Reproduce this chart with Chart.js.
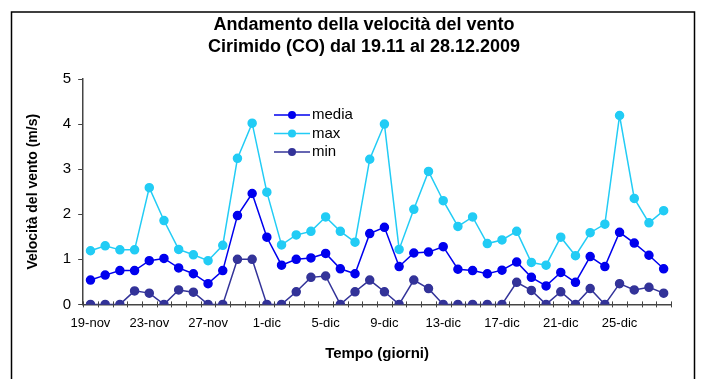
<!DOCTYPE html>
<html>
<head>
<meta charset="utf-8">
<script src="https://cdn.jsdelivr.net/npm/chart.js@4"></script>
<style>
    html, body { margin: 0; padding: 0; background: #fff; }
    #wrap { position: relative; width: 701px; height: 379px; }
</style>
</head>
<body>
<div id="wrap"><canvas id="windChart" width="701" height="379"></canvas></div>
<script>
// giorni dal 19-nov al 28-dic
const days = [];
for (let d = 19; d <= 30; d++) days.push(d + '-nov');
for (let d = 1; d <= 28; d++) days.push(d + '-dic');

const media = [0.54, 0.65, 0.75, 0.75, 0.97, 1.02, 0.81, 0.68, 0.46, 0.75,
    1.97, 2.46, 1.49, 0.87, 1.00, 1.03, 1.13, 0.79, 0.68, 1.57,
    1.71, 0.84, 1.14, 1.16, 1.28, 0.78, 0.75, 0.68, 0.76, 0.94,
    0.60, 0.41, 0.71, 0.49, 1.06, 0.84, 1.60, 1.36, 1.09, 0.79];
const max = [1.19, 1.30, 1.21, 1.21, 2.59, 1.86, 1.22, 1.10, 0.97, 1.31,
    3.24, 4.02, 2.49, 1.32, 1.54, 1.62, 1.94, 1.62, 1.38, 3.22,
    4.00, 1.22, 2.11, 2.95, 2.30, 1.73, 1.94, 1.35, 1.43, 1.62,
    0.93, 0.87, 1.49, 1.08, 1.59, 1.78, 4.19, 2.35, 1.81, 2.08];
const min = [0, 0, 0, 0.30, 0.25, 0, 0.32, 0.27, 0, 0,
    1.00, 1.00, 0, 0, 0.28, 0.60, 0.63, 0, 0.28, 0.54,
    0.28, 0, 0.54, 0.35, 0, 0, 0, 0, 0, 0.49,
    0.31, 0, 0.28, 0, 0.35, 0, 0.46, 0.32, 0.38, 0.25];
const yTicks = [0, 1, 2, 3, 4, 5];

const colMedia = '#0000ee';
const colMax = '#22ccf5';
const colMin = '#333399';
const font = 'Arial, "Liberation Sans", sans-serif';

function serie(label, values, color) {
    return {
        label: label,
        data: values,
        borderColor: color,
        backgroundColor: color,
        borderWidth: 1.5,
        pointRadius: 4,
        pointHoverRadius: 4,
        tension: 0,
    };
}

// cornice, titolo, legenda, tacche incrociate sull'asse x
const decor = {
    id: 'decor',
    afterDraw(chart) {
        const c = chart.ctx;
        const xs = chart.scales.x;
        const ys = chart.scales.y;
        c.save();
        c.strokeStyle = '#000';
        c.lineWidth = 1.5;
        c.strokeRect(11.5, 12, 683, 400);

        c.fillStyle = '#000';
        c.font = 'bold 18px ' + font;
        c.textAlign = 'center';
        c.textBaseline = 'middle';
        c.fillText('Andamento della velocità del vento', 364, 25);
        c.fillText('Cirimido (CO) dal 19.11 al 28.12.2009', 364, 47);

        // legenda
        c.textAlign = 'left';
        c.font = '15px ' + font;
        chart.data.datasets.forEach((ds, i) => {
            const y = 115 + i * 18.5;
            c.strokeStyle = ds.borderColor;
            c.fillStyle = ds.borderColor;
            c.lineWidth = 1.5;
            c.beginPath();
            c.moveTo(274, y);
            c.lineTo(310, y);
            c.stroke();
            c.beginPath();
            c.arc(292, y, 4, 0, Math.PI * 2);
            c.fill();
            c.fillStyle = '#000';
            c.fillText(ds.label, 312, y);
        });

        c.strokeStyle = '#444';
        c.lineWidth = 1;
        const yb = ys.getPixelForValue(0);
        const step = xs.getPixelForValue(1) - xs.getPixelForValue(0);
        for (let i = 0; i <= days.length; i++) {
            const x = Math.round(xs.getPixelForValue(0) - step / 2 + i * step) + 0.5;
            c.beginPath();
            c.moveTo(x, yb - 3);
            c.lineTo(x, yb + 3);
            c.stroke();
        }
        c.restore();
    }
};

const ctx = document.getElementById('windChart').getContext('2d');
new Chart(ctx, {
    type: 'line',
    data: {
        labels: days,
        datasets: [serie('media', media, colMedia), serie('max', max, colMax), serie('min', min, colMin)],
    },
    options: {
        responsive: false,
        animation: false,
        layout: { padding: { top: 79, right: 30, bottom: 0, left: 25 } },
        plugins: {
            legend: { display: false },
            tooltip: { enabled: false },
        },
        scales: {
            x: {
                offset: true,
                grid: { display: false, drawTicks: false },
                border: { color: '#444', width: 1.5 },
                ticks: {
                    autoSkip: false,
                    maxRotation: 0,
                    color: '#000',
                    padding: 11,
                    font: { family: font, size: 13 },
                    callback: (value, index) => (index % 4 === 0 ? days[index] : ''),
                },
                title: {
                    display: true,
                    text: 'Tempo (giorni)',
                    color: '#000',
                    font: { family: font, size: 15, weight: 'bold' },
                    padding: { top: 3, bottom: 16 },
                },
            },
            y: {
                min: 0,
                max: 5,
                afterBuildTicks(axis) {
                    axis.ticks = yTicks.map(v => ({ value: v }));
                },
                grid: { drawOnChartArea: false, tickLength: 5, color: '#444' },
                border: { color: '#444', width: 1.5 },
                ticks: {
                    color: '#000',
                    padding: 7,
                    font: { family: font, size: 15 },
                },
                title: {
                    display: true,
                    text: 'Velocità del vento (m/s)',
                    color: '#000',
                    font: { family: font, size: 14, weight: 'bold' },
                    padding: { top: 0, bottom: 14 },
                },
            },
        },
    },
    plugins: [decor],
});
</script>
</body>
</html>
